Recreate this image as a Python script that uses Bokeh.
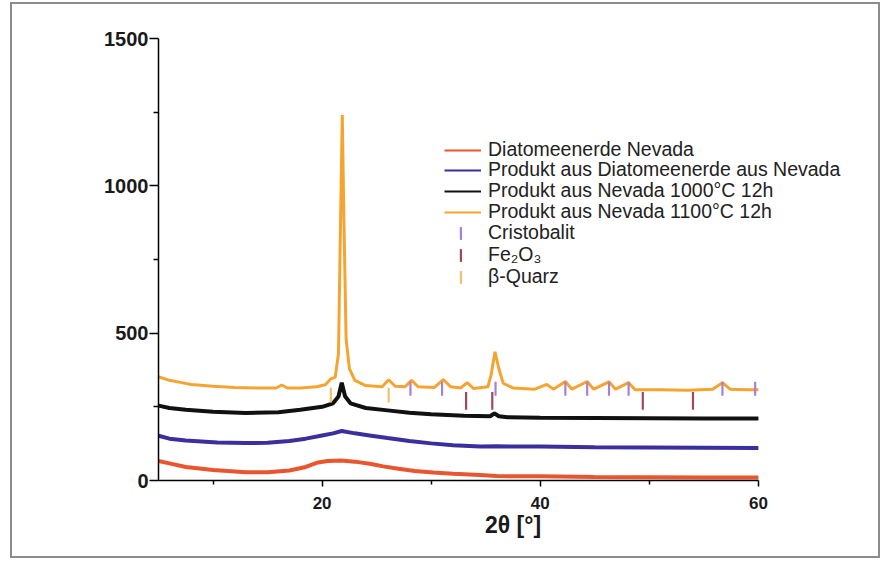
import math
from bokeh.plotting import figure
from bokeh.models import (Range1d, FixedTicker, Legend, LegendItem, Label,
                          ColumnDataSource)
from bokeh.embed import file_html
from bokeh.resources import INLINE

# ---------------- data ----------------
x_red = [5, 6, 7.5, 10, 13, 15, 17, 18.5, 19.5, 20.5, 21.7, 23, 24.5, 25.6, 27, 28.5, 30.2,
         32, 34.5, 36, 40, 45, 50, 55, 60]
y_red = [66, 58, 46, 36, 28, 28, 34, 46, 60, 66, 68, 64, 56, 48, 40, 32, 27,
         23, 19, 15, 14, 12, 11, 10, 10]

x_blue = [5, 6, 7.5, 10.4, 13, 15, 17, 18.5, 20, 21, 21.8, 23, 24.5, 26, 28, 30, 32,
          34.5, 36, 40, 45, 50, 55, 60]
y_blue = [152, 142, 136, 129, 127, 128, 134, 142, 153, 160, 168, 160, 152, 144, 134, 126, 120,
          115, 116, 115, 113, 112, 111, 110]

x_black = [5, 6, 7.5, 10, 13, 16, 18, 20, 21, 21.5, 21.8, 22.1, 22.6, 24, 26, 28, 30, 33,
           35.4, 35.8, 36.2, 37, 40, 45, 50, 55, 60]
y_black = [254, 246, 240, 233, 229, 232, 240, 250, 262, 285, 332, 286, 262, 246, 238, 230, 225, 220,
           218, 228, 218, 215, 213, 212, 211, 210, 210]

x_orange = [5, 6, 7, 8, 10, 12, 14, 15.8, 16.3, 16.8, 18, 19.5, 20.3, 20.8, 21.2, 21.5, 21.7,
            21.85, 22.0, 22.2, 22.5, 23, 24, 25.5, 26.1, 26.7, 27.6, 28.2, 28.8, 30.3, 31.1,
            31.8, 32.7, 33.3, 33.9, 35.2, 35.5, 35.85, 36.2, 36.6, 37.5, 39.5, 40.6, 41.2,
            42.3, 42.9, 44.3, 44.9, 46.3, 46.9, 48.1, 48.7, 51, 53.5, 55.8, 56.7, 57.4, 59, 60]
y_orange = [352, 340, 333, 326, 320, 316, 314, 314, 324, 314, 314, 318, 325, 345, 350, 430, 900,
            1240, 880, 480, 380, 340, 322, 318, 342, 320, 318, 340, 318, 316, 342,
            318, 314, 332, 312, 318, 360, 437, 380, 330, 314, 310, 326, 310,
            336, 310, 336, 310, 335, 310, 332, 308, 308, 306, 310, 332, 310, 308, 308]

# reference phase sticks (2theta positions, stick bottom / top in cps)
cristobalit_pos = [28.1, 31.0, 35.9, 42.3, 44.3, 46.3, 48.1, 56.7, 59.7]
cristobalit_lo, cristobalit_hi = 288, 335
fe2o3_pos = [33.2, 35.6, 49.4, 54.0]
fe2o3_lo, fe2o3_hi = 240, 300
quarz_pos = [20.8, 26.1]
quarz_lo, quarz_hi = 265, 315

series_labels = ["Diatomeenerde Nevada", "Produkt aus Diatomeenerde aus Nevada",
                 "Produkt aus Nevada 1000°C 12h", "Produkt aus Nevada 1100°C 12h"]
stick_labels = ["Cristobalit", "Fe\u2082O\u2083", "\u03b2-Quarz"]
x_ticks = [20, 40, 60]
x_minor = [10, 30, 50]
y_ticks = [0, 500, 1000, 1500]
y_minor = [250, 750, 1250]

# ---------------- styling ----------------
C_RED = "#e8552e"
C_BLUE = "#3b2f9e"
C_BLACK = "#111111"
C_ORANGE = "#f5a431"
C_CRIS = "#a67fd6"
C_FE = "#a0485a"
C_QZ = "#f2bf6a"
FONT = "Liberation Sans"

p = figure(width=870, height=556, output_backend="svg", toolbar_location=None,
           x_range=Range1d(5, 70), y_range=Range1d(0, 1500),
           min_border_left=146, min_border_right=15, min_border_top=34, min_border_bottom=80)
p.styles = {"border": "2px solid #8c8c8c", "margin-left": "10px", "margin-top": "2px"}
p.xgrid.visible = False
p.ygrid.visible = False
p.outline_line_color = None
p.background_fill_color = "white"
p.border_fill_color = "white"

series = [(x_red, y_red, C_RED, 4), (x_blue, y_blue, C_BLUE, 4),
          (x_black, y_black, C_BLACK, 4), (x_orange, y_orange, C_ORANGE, 3)]
leg_lines = []
for xs, ys, c, w in series:
    p.line(xs, ys, line_color=c, line_width=w)
    # thin twin used only for the legend swatch
    leg_lines.append(p.line(xs, ys, line_color=c, line_width=2, visible=False))

def sticks(pos, lo, hi, color):
    src = ColumnDataSource(dict(x=pos, bottom=[lo] * len(pos), top=[hi] * len(pos)))
    return p.vbar(x="x", bottom="bottom", top="top", width=0.2, source=src,
                  fill_color=color, line_color=None)

s_cris = sticks(cristobalit_pos, cristobalit_lo, cristobalit_hi, C_CRIS)
s_fe = sticks(fe2o3_pos, fe2o3_lo, fe2o3_hi, C_FE)
s_qz = sticks(quarz_pos, quarz_lo, quarz_hi, C_QZ)

# one legend per row so the rows can be packed as tightly as in the original
line_rows_y = [319, 299, 278, 257]
stick_rows_y = [236, 214, 192]
common = dict(padding=0, margin=0, spacing=0, label_height=21,
              border_line_color=None, background_fill_alpha=0,
              label_text_font=FONT, label_text_font_size="19.5px",
              label_text_color="#222222")
for lab, r, yy in zip(series_labels, leg_lines, line_rows_y):
    p.add_layout(Legend(items=[LegendItem(label=lab, renderers=[r])], location=(286, yy),
                        glyph_width=37, glyph_height=20, label_standoff=7, **common))
for lab, r, yy in zip(stick_labels, [s_cris, s_fe, s_qz], stick_rows_y):
    p.add_layout(Legend(items=[LegendItem(label=lab, renderers=[r])], location=(301, yy),
                        glyph_width=3, glyph_height=16, label_standoff=26, **common))

# axes
for ax in (p.xaxis[0], p.yaxis[0]):
    ax.axis_line_width = 1.5
    ax.axis_line_color = "black"
    ax.major_tick_line_width = 1.5
    ax.minor_tick_line_width = 1.5
    ax.major_tick_line_color = "black"
    ax.minor_tick_line_color = "black"
    ax.major_tick_in = 0
    ax.minor_tick_in = 0
    ax.major_label_text_font = FONT
    ax.major_label_text_font_style = "bold"
    ax.major_label_text_color = "#1a1a1a"

p.xaxis.bounds = (5, 60)
p.xaxis.ticker = FixedTicker(ticks=x_ticks, minor_ticks=x_minor)
p.yaxis.ticker = FixedTicker(ticks=y_ticks, minor_ticks=y_minor)
p.xaxis.major_tick_out = 6
p.xaxis.minor_tick_out = 4
p.xaxis.major_label_text_font_size = "17px"
p.xaxis.major_label_standoff = 10
p.xaxis.axis_label = "2\u03b8 [°]"
p.xaxis.axis_label_text_font = FONT
p.xaxis.axis_label_text_font_style = "bold"
p.xaxis.axis_label_text_font_size = "23px"
p.xaxis.axis_label_text_color = "#1a1a1a"
p.xaxis.axis_label_standoff = 0

p.yaxis.major_tick_out = 9
p.yaxis.minor_tick_out = 5
p.yaxis.major_label_text_font_size = "20px"
p.yaxis.major_label_standoff = 1

ylab = Label(x=-71, y=248, x_units="screen", y_units="screen", text="Intensität [cps]",
             angle=math.pi / 2, text_align="center", text_baseline="middle",
             text_font=FONT, text_font_style="bold", text_font_size="26px",
             text_color="#1a1a1a")
p.add_layout(ylab)

open("out.html", "w").write(file_html(p, INLINE))
